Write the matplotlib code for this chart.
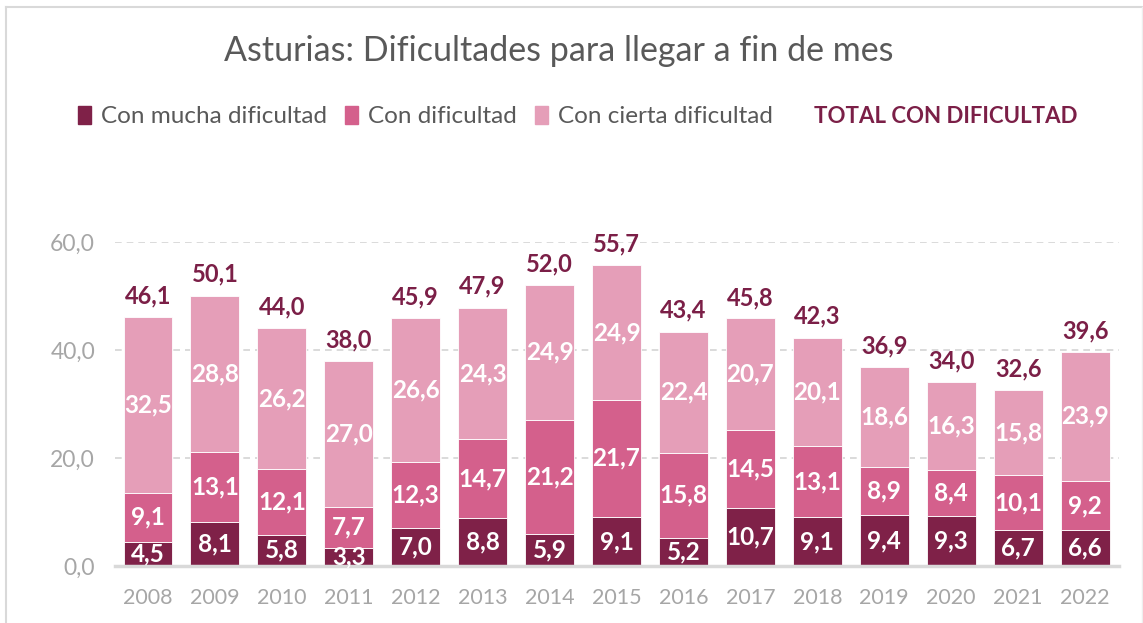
import matplotlib
matplotlib.use("Agg")
import matplotlib.pyplot as plt
from matplotlib.patches import Rectangle
from matplotlib.lines import Line2D
import numpy as np

years = ["2008", "2009", "2010", "2011", "2012", "2013", "2014", "2015",
         "2016", "2017", "2018", "2019", "2020", "2021", "2022"]
mucha = [4.5, 8.1, 5.8, 3.3, 7.0, 8.8, 5.9, 9.1, 5.2, 10.7, 9.1, 9.4, 9.3, 6.7, 6.6]
dificultad = [9.1, 13.1, 12.1, 7.7, 12.3, 14.7, 21.2, 21.7, 15.8, 14.5, 13.1, 8.9, 8.4, 10.1, 9.2]
cierta = [32.5, 28.8, 26.2, 27.0, 26.6, 24.3, 24.9, 24.9, 22.4, 20.7, 20.1, 18.6, 16.3, 15.8, 23.9]
total = [46.1, 50.1, 44.0, 38.0, 45.9, 47.9, 52.0, 55.7, 43.4, 45.8, 42.3, 36.9, 34.0, 32.6, 39.6]
series_names = ["Con mucha dificultad", "Con dificultad", "Con cierta dificultad"]
total_name = "TOTAL CON DIFICULTAD"
title = "Asturias: Dificultades para llegar a fin de mes"
yticks = [0, 20, 40, 60]

c_dark = "#7F2148"
c_mid = "#D4608C"
c_light = "#E59EB8"
c_total = "#7B1F47"
c_gray = "#595959"
c_tick = "#A6A6A6"
FONT = "Lato"

plt.rcParams["font.family"] = [FONT, "DejaVu Sans"]

fig = plt.figure(figsize=(11.43, 6.23), dpi=100)
ax = fig.add_axes([0.1002, 0.0915, 0.8784, 0.5201])

x = np.arange(len(years))
w = 0.73
b1 = ax.bar(x, mucha, w, color=c_dark, edgecolor="white", linewidth=0.6, zorder=3)
b2 = ax.bar(x, dificultad, w, bottom=mucha, color=c_mid, edgecolor="white", linewidth=0.6, zorder=3)
bot3 = np.array(mucha) + np.array(dificultad)
b3 = ax.bar(x, cierta, w, bottom=bot3, color=c_light, edgecolor="white", linewidth=0.6, zorder=3)

def fmt(v):
    return f"{v:.1f}".replace(".", ",")

for bars in (b1, b2, b3):
    for rect in bars:
        h = rect.get_height()
        cy = rect.get_y() + h / 2
        ax.text(rect.get_x() + rect.get_width() / 2, cy, fmt(h), ha="center", va="center",
                color="white", fontsize=17.5, fontweight="bold", zorder=5)

for xi, t in zip(x, total):
    ax.annotate(fmt(t), (xi, t), xytext=(0, 7), textcoords="offset points",
                ha="center", va="bottom", color=c_total, fontsize=17, fontweight="bold", zorder=5)

ax.set_xlim(-0.5, len(years) - 0.5)
ax.set_ylim(0, 60)
ax.set_yticks(yticks)
ax.set_yticklabels([fmt(v) for v in yticks], color=c_tick, fontsize=16.5)
ax.set_xticks(x)
ax.set_xticklabels(years, color=c_tick, fontsize=15.5)
ax.tick_params(axis="both", length=0)
ax.tick_params(axis="x", pad=16)
ax.tick_params(axis="y", pad=14)
for s in ("top", "right", "left"):
    ax.spines[s].set_visible(False)
ax.spines["bottom"].set_color("#D9D9D9")
ax.spines["bottom"].set_linewidth(2.5)
ax.spines["bottom"].set_zorder(4)
ax.yaxis.grid(True, linestyle=(0, (4, 3)), color="#D4D4D4", linewidth=1.2, zorder=0)
ax.set_axisbelow(True)

fig.text(0.4885, 0.918, title, ha="center", va="center", fontsize=24.5, color=c_gray)

handles = [Rectangle((0, 0), 1, 1, color=c) for c in (c_dark, c_mid, c_light)]
leg = fig.legend(handles, series_names, loc="center left", bbox_to_anchor=(0.068, 0.813),
                 ncol=3, frameon=False, fontsize=17.5, handlelength=0.55, handleheight=0.8,
                 handletextpad=0.42, columnspacing=0.72, borderaxespad=0, borderpad=0)
for t in leg.get_texts():
    t.set_color(c_gray)
fig.text(0.7125, 0.813, total_name, ha="left", va="center", fontsize=16,
         fontweight="bold", color=c_total)

# outer chart border
fig.add_artist(Line2D([0.0055, 0.0055], [0, 0.989], transform=fig.transFigure, color="#D9D9D9", lw=1.5))
fig.add_artist(Line2D([0.0055, 0.999], [0.989, 0.989], transform=fig.transFigure, color="#D9D9D9", lw=1.5))
fig.add_artist(Line2D([0.999, 0.999], [0, 0.989], transform=fig.transFigure, color="#EEEEEE", lw=1))

fig.savefig("out.png", dpi=100, facecolor="white")
